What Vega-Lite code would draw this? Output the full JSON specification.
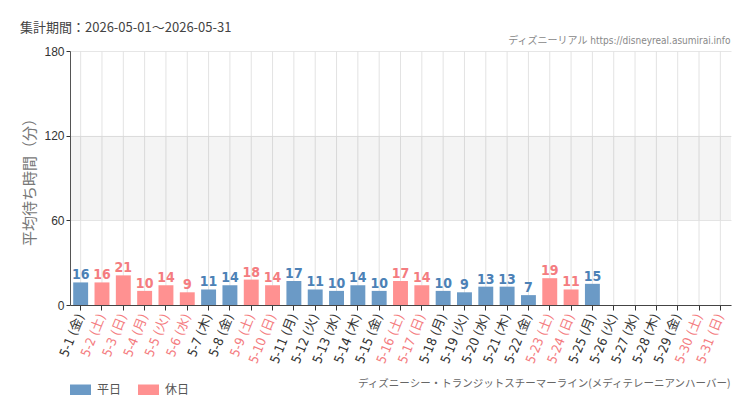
{
  "$schema": "https://vega.github.io/schema/vega-lite/v6.json",
  "width": 661,
  "height": 254,
  "autosize": {"type": "none"},
  "padding": {"left": 70, "top": 51, "right": 19, "bottom": 105},
  "background": "#ffffff",
  "title": {
    "text": "集計期間：2026-05-01～2026-05-31",
    "anchor": "start",
    "frame": "group",
    "dx": -50,
    "offset": 0,
    "fontSize": 13,
    "fontWeight": "normal",
    "color": "#444",
    "font": "Noto Sans CJK JP"
  },
  "data": {
    "values": [
      {"date": "5-1 (金)", "type": "平日", "value": 16},
      {"date": "5-2 (土)", "type": "休日", "value": 16},
      {"date": "5-3 (日)", "type": "休日", "value": 21},
      {"date": "5-4 (月)", "type": "休日", "value": 10},
      {"date": "5-5 (火)", "type": "休日", "value": 14},
      {"date": "5-6 (水)", "type": "休日", "value": 9},
      {"date": "5-7 (木)", "type": "平日", "value": 11},
      {"date": "5-8 (金)", "type": "平日", "value": 14},
      {"date": "5-9 (土)", "type": "休日", "value": 18},
      {"date": "5-10 (日)", "type": "休日", "value": 14},
      {"date": "5-11 (月)", "type": "平日", "value": 17},
      {"date": "5-12 (火)", "type": "平日", "value": 11},
      {"date": "5-13 (水)", "type": "平日", "value": 10},
      {"date": "5-14 (木)", "type": "平日", "value": 14},
      {"date": "5-15 (金)", "type": "平日", "value": 10},
      {"date": "5-16 (土)", "type": "休日", "value": 17},
      {"date": "5-17 (日)", "type": "休日", "value": 14},
      {"date": "5-18 (月)", "type": "平日", "value": 10},
      {"date": "5-19 (火)", "type": "平日", "value": 9},
      {"date": "5-20 (水)", "type": "平日", "value": 13},
      {"date": "5-21 (木)", "type": "平日", "value": 13},
      {"date": "5-22 (金)", "type": "平日", "value": 7},
      {"date": "5-23 (土)", "type": "休日", "value": 19},
      {"date": "5-24 (日)", "type": "休日", "value": 11},
      {"date": "5-25 (月)", "type": "平日", "value": 15},
      {"date": "5-26 (火)", "type": "平日", "value": null},
      {"date": "5-27 (水)", "type": "平日", "value": null},
      {"date": "5-28 (木)", "type": "平日", "value": null},
      {"date": "5-29 (金)", "type": "平日", "value": null},
      {"date": "5-30 (土)", "type": "休日", "value": null},
      {"date": "5-31 (日)", "type": "休日", "value": null}
    ]
  },
  "layer": [
    {
      "mark": {"type": "rule", "color": "#e3e3e3", "strokeWidth": 1},
      "encoding": {
        "x": {"field": "date", "type": "nominal", "sort": null, "axis": null}
      }
    },
    {
      "data": {"values": [{"lo": 60, "hi": 120}]},
      "mark": {"type": "rect", "color": "#000000", "opacity": 0.045},
      "encoding": {
        "y": {"field": "lo", "type": "quantitative", "title": "平均待ち時間（分）"},
        "y2": {"field": "hi"}
      }
    },
    {
      "mark": {"type": "bar"},
      "encoding": {
        "x": {
          "field": "date",
          "type": "nominal",
          "sort": null,
          "scale": {"paddingInner": 0.3, "paddingOuter": 0.15},
          "axis": {
            "orient": "bottom",
            "title": "ディズニーシー・トランジットスチーマーライン(メディテレーニアンハーバー)",
            "titleAnchor": "end",
            "titleAlign": "right",
            "titleX": 660,
            "titleY": 78,
            "titleBaseline": "middle",
            "titleFontSize": 10.5,
            "titleFontWeight": "normal",
            "titleColor": "#666",
            "titleFont": "Noto Sans CJK JP",
            "labelAngle": -68,
            "labelAlign": "right",
            "labelBaseline": "middle",
            "labelPadding": 4,
            "labelFontSize": 13,
            "labelFont": "DejaVu Sans Condensed, Noto Sans CJK JP",
            "labelOverlap": false,
            "labelColor": {
              "condition": {
                "test": "indexof(['5-2 (土)','5-3 (日)','5-4 (月)','5-5 (火)','5-6 (水)','5-9 (土)','5-10 (日)','5-16 (土)','5-17 (日)','5-23 (土)','5-24 (日)','5-30 (土)','5-31 (日)'], datum.value) >= 0",
                "value": "#f47c80"
              },
              "value": "#333333"
            },
            "tickSize": 5,
            "tickColor": "#333",
            "domainColor": "#444",
            "grid": false
          }
        },
        "y": {
          "field": "value",
          "type": "quantitative",
          "scale": {"domain": [0, 180], "nice": false},
          "axis": {
            "values": [0, 60, 120, 180],
            "title": "平均待ち時間（分）",
            "titleFontSize": 15,
            "titleColor": "#777",
            "titleFontWeight": "normal",
            "titleFont": "Noto Sans CJK JP",
            "titlePadding": 6,
            "labelFontSize": 12,
            "labelFont": "Liberation Sans",
            "labelColor": "#333",
            "labelPadding": 2,
            "tickSize": 4,
            "tickColor": "#333",
            "domainColor": "#555",
            "gridColor": "#e6e6e6"
          }
        },
        "color": {
          "field": "type",
          "type": "nominal",
          "scale": {"domain": ["平日", "休日"], "range": ["#6b9ac6", "#ff9191"]},
          "legend": {
            "orient": "none",
            "legendX": 0,
            "legendY": 328,
            "direction": "horizontal",
            "title": null,
            "symbolType": "M-1,-0.5H1V0.5H-1Z",
            "symbolSize": 441,
            "symbolStrokeWidth": 0,
            "symbolOpacity": 1,
            "labelFontSize": 12,
            "labelColor": "#555",
            "labelFont": "Noto Sans CJK JP",
            "labelOffset": 6,
            "columnPadding": 16
          }
        }
      }
    },
    {
      "mark": {
        "type": "text",
        "baseline": "alphabetic",
        "dy": -3,
        "font": "DejaVu Sans Condensed, Roboto",
        "fontSize": 14,
        "fontWeight": "bold"
      },
      "encoding": {
        "x": {
          "field": "date",
          "type": "nominal",
          "sort": null,
          "axis": {
            "orient": "top",
            "labels": false,
            "ticks": false,
            "domain": false,
            "grid": false,
            "title": "ディズニーリアル https://disneyreal.asumirai.info",
            "titleAnchor": "end",
            "titleAlign": "right",
            "titleX": 660,
            "titleY": -11,
            "titleBaseline": "middle",
            "titleFontSize": 10,
            "titleFont": "DejaVu Sans Condensed, Noto Sans CJK JP",
            "titleColor": "#888",
            "titleFontWeight": "normal"
          }
        },
        "y": {"field": "value", "type": "quantitative"},
        "text": {"field": "value", "type": "quantitative"},
        "color": {
          "condition": {"test": "datum.type == '休日'", "value": "#f47c80"},
          "value": "#4c81b6"
        }
      }
    }
  ],
  "resolve": {"axis": {"x": "independent"}},
  "config": {
    "view": {"stroke": null},
    "mark": {"invalid": "break-paths-show-domains"}
  }
}
